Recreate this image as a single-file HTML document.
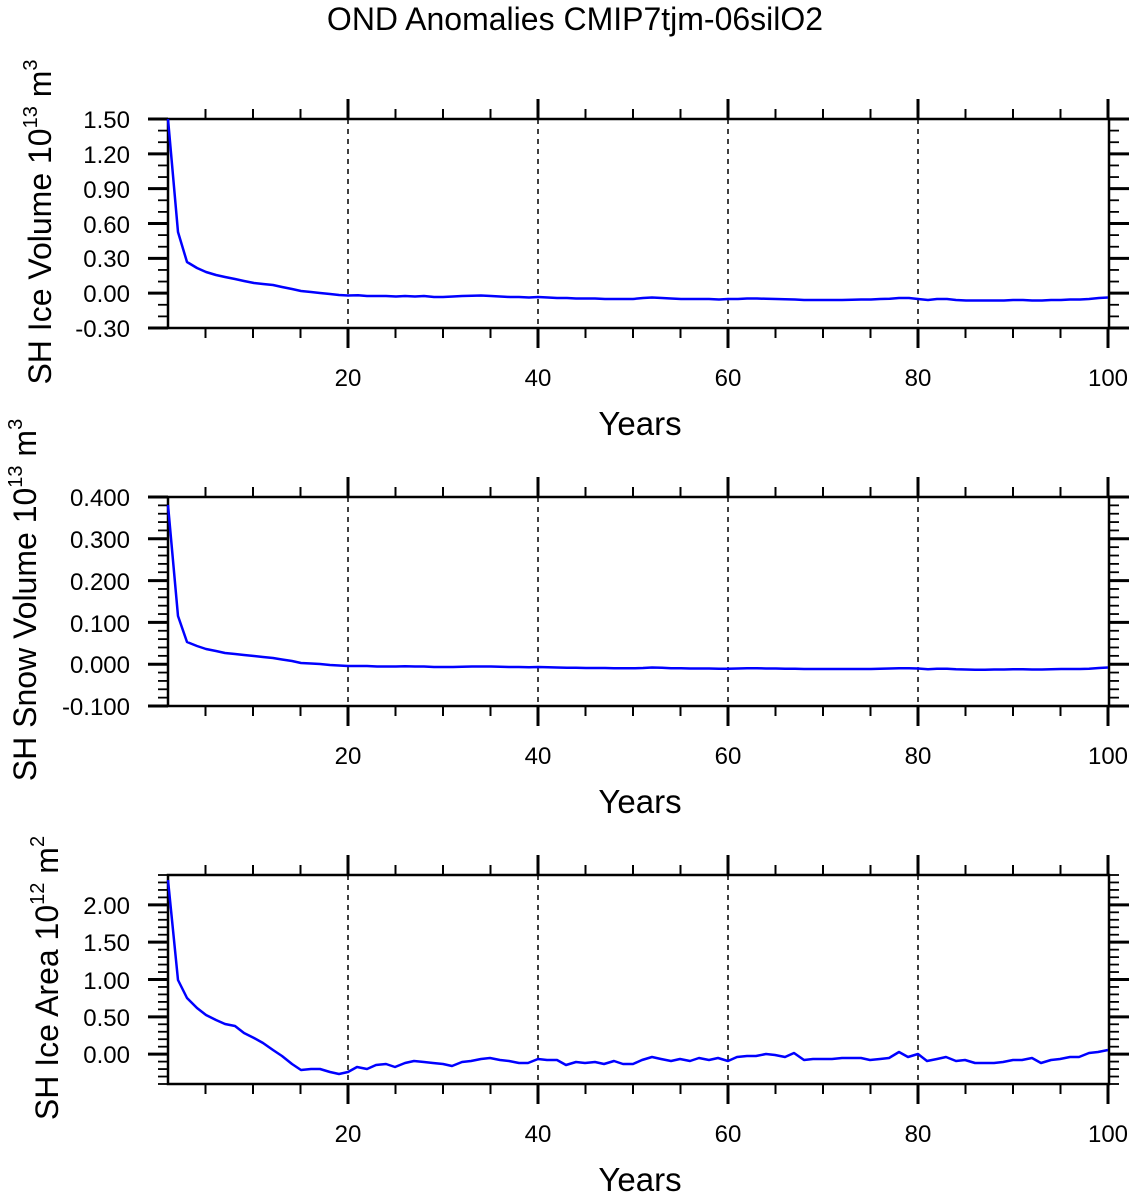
<!DOCTYPE html>
<html><head><meta charset="utf-8"><style>
html,body{margin:0;padding:0;background:#fff;}
svg{display:block;font-family:"Liberation Sans",Arial,sans-serif;}
</style></head><body>
<svg id="s" width="1135" height="1196" viewBox="0 0 1135 1196" xmlns="http://www.w3.org/2000/svg">
<text x="575" y="30" font-size="32" text-anchor="middle">OND Anomalies CMIP7tjm-06silO2</text>
<g id="axes" stroke="#000" fill="none"></g>
<g font-size="24" text-anchor="end">
<text x="130" y="128">1.50</text><text x="130" y="163">1.20</text><text x="130" y="198">0.90</text><text x="130" y="233">0.60</text><text x="130" y="267">0.30</text><text x="130" y="302">0.00</text><text x="130" y="337">-0.30</text>
<text x="130" y="506">0.400</text><text x="130" y="548">0.300</text><text x="130" y="590">0.200</text><text x="130" y="632">0.100</text><text x="130" y="673">0.000</text><text x="130" y="715">-0.100</text>
<text x="130" y="914">2.00</text><text x="130" y="951">1.50</text><text x="130" y="989">1.00</text><text x="130" y="1026">0.50</text><text x="130" y="1063">0.00</text>
</g>
<g font-size="24" text-anchor="middle">
<text x="348" y="386">20</text><text x="538" y="386">40</text><text x="728" y="386">60</text><text x="918" y="386">80</text><text x="1108" y="386">100</text>
<text x="348" y="764">20</text><text x="538" y="764">40</text><text x="728" y="764">60</text><text x="918" y="764">80</text><text x="1108" y="764">100</text>
<text x="348" y="1142">20</text><text x="538" y="1142">40</text><text x="728" y="1142">60</text><text x="918" y="1142">80</text><text x="1108" y="1142">100</text>
</g>
<g font-size="33" text-anchor="middle">
<text x="640" y="435">Years</text><text x="640" y="813">Years</text><text x="640" y="1191">Years</text>
</g>
<g font-size="32" text-anchor="middle">
<text transform="translate(51,222) rotate(-90)">SH Ice Volume 10<tspan font-size="20" dy="-14">13</tspan><tspan dy="14"> m</tspan><tspan font-size="20" dy="-14">3</tspan></text>
<text transform="translate(36,600) rotate(-90)">SH Snow Volume 10<tspan font-size="20" dy="-14">13</tspan><tspan dy="14"> m</tspan><tspan font-size="20" dy="-14">3</tspan></text>
<text transform="translate(58,978) rotate(-90)">SH Ice Area 10<tspan font-size="20" dy="-14">12</tspan><tspan dy="14"> m</tspan><tspan font-size="20" dy="-14">2</tspan></text>
</g>
<g fill="none" stroke="#0000ff" stroke-width="2.5" stroke-linejoin="round">
<polyline points="168,119 178,232 187,262 197,268 206,272 216,275 225,277 235,279 244,281 254,283 263,284 273,285 282,287 292,289 301,291 311,292 320,293 330,294 339,295 348,295.5 358,295.3 367,296 377,296 386,296 396,296.5 405,296 415,296.5 424,296 434,297 443,297 453,296.5 462,296 472,295.8 481,295.5 491,296 500,296.5 510,297 519,297 529,297.5 538,297 548,297.5 557,298 567,298 576,298.5 586,298.5 595,298.5 605,299 614,299 624,299 633,299 643,298 652,297.5 662,298 671,298.5 681,299 690,299 700,299 709,299 719,299.5 728,299 738,299 747,298.5 757,298.5 766,298.8 776,299 785,299.3 795,299.5 804,300 814,300 823,300 833,300 842,300 852,299.7 861,299.5 871,299.5 880,299 890,298.7 899,298 909,298 918,299 928,300 937,299 947,299 956,300 966,300.5 975,300.5 985,300.5 994,300.5 1004,300.5 1013,300 1023,300 1032,300.5 1042,300.5 1051,300 1061,300 1070,299.5 1080,299.5 1089,299 1099,298 1108,297.5"/>
<polyline points="168,505 178,616 187,642 197,646 206,649 216,651 225,653 235,654 244,655 254,656 263,657 273,658 282,659.5 292,661 301,663 311,663.5 320,664 330,665 339,665.5 348,666 358,666 367,666 377,666.5 386,666.5 396,666.5 405,666.3 415,666.5 424,666.5 434,667 443,667 453,667 462,666.8 472,666.5 481,666.5 491,666.5 500,666.8 510,667 519,667 529,667.3 538,667 548,667.3 557,667.5 567,667.7 576,667.8 586,668 595,668 605,668 614,668.2 624,668.3 633,668.3 643,668 652,667.5 662,667.8 671,668.2 681,668.3 690,668.5 700,668.5 709,668.5 719,668.7 728,668.7 738,668.5 747,668.3 757,668.3 766,668.5 776,668.5 785,668.7 795,668.8 804,669 814,669 823,669 833,669 842,669 852,669 861,669 871,669 880,668.8 890,668.5 899,668.2 909,668.3 918,668.5 928,669.2 937,668.8 947,668.8 956,669.3 966,669.5 975,669.7 985,669.7 994,669.5 1004,669.5 1013,669.3 1023,669.3 1032,669.5 1042,669.5 1051,669.3 1061,669 1070,669 1080,669 1089,668.8 1099,668 1108,667.5"/>
<polyline points="168,880 178,980 187,998 197,1008 206,1015 216,1020 225,1024 235,1026 244,1033 254,1038 263,1043 273,1050 282,1056 292,1064 301,1070 311,1069 320,1069 330,1072 339,1074 348,1072 357,1067 367,1069 376,1065 386,1064 395,1067 405,1063 414,1061 424,1062 433,1063 443,1064 452,1066 462,1062 471,1061 481,1059 490,1058 500,1060 509,1061 519,1063 528,1063 538,1059 547,1060 557,1060 566,1065 576,1062 585,1063 595,1062 604,1064 614,1061 623,1064 633,1064 642,1060 652,1057 661,1059 671,1061 680,1059 690,1061 699,1058 709,1060 718,1058 728,1061 737,1057 747,1056 756,1056 766,1054 775,1055 785,1057 794,1053 804,1060 813,1059 823,1059 832,1059 842,1058 851,1058 861,1058 870,1060 880,1059 889,1058 899,1052 908,1057 918,1054 927,1061 937,1059 946,1057 956,1061 965,1060 975,1063 984,1063 994,1063 1003,1062 1013,1060 1022,1060 1032,1058 1041,1063 1051,1060 1060,1059 1070,1057 1079,1057 1089,1053 1098,1052 1108,1050"/>
</g>
</svg>
<script>
(function(){
var g=document.getElementById('axes'),NS='http://www.w3.org/2000/svg';
function L(x1,y1,x2,y2,w,d){var l=document.createElementNS(NS,'line');l.setAttribute('x1',x1);l.setAttribute('y1',y1);l.setAttribute('x2',x2);l.setAttribute('y2',y2);l.setAttribute('stroke-width',w||2);if(d)l.setAttribute('stroke-dasharray',d);g.appendChild(l);}
var X0=168,X1=1109;
function xp(v){return 167.5+(v-1)*9.5;}
var panels=[{t:119,b:328,minStep:(328-119)/18},{t:497,b:706,minStep:(706-497)/25},{t:875,b:1084,minStep:(1084-875)/28}];
panels.forEach(function(p,i){
 var r=document.createElementNS(NS,'rect');r.setAttribute('x',X0);r.setAttribute('y',p.t);r.setAttribute('width',X1-X0);r.setAttribute('height',p.b-p.t);r.setAttribute('stroke-width',2.5);g.appendChild(r);
 [20,40,60,80].forEach(function(v){L(xp(v),p.t,xp(v),p.b,1.5,'5,5');});
 for(var v=5;v<=100;v+=5){var x=xp(v);var maj=(v%20==0);var len=maj?20:10;L(x,p.b,x,p.b+len,maj?3:2);L(x,p.t,x,p.t-len,maj?3:2);}
 var n=Math.round((p.b-p.t)/p.minStep);
 for(var k=0;k<=n;k++){var y=p.b-k*p.minStep;var maj;
  if(i==0)maj=(k%3==0);else if(i==1)maj=(k%5==0);else maj=((k-4)%5==0);
  var len=maj?20:10;L(X0,y,X0-len,y,maj?3:1.8);L(X1,y,X1+len,y,maj?3:1.8);}
});
})();
</script>
</body></html>
